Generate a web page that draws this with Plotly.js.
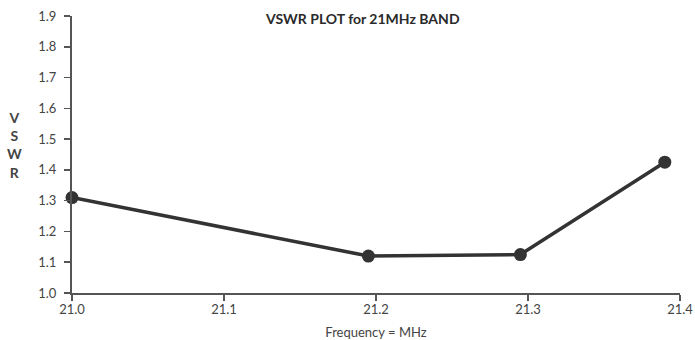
<!DOCTYPE html>
<html>
<head>
<meta charset="utf-8">
<script src="https://cdn.plot.ly/plotly-3.0.1.min.js"></script>
<style>html,body{margin:0;padding:0;background:#fff;}#chart{width:695px;height:340px;}</style>
</head>
<body>
<div id="chart"></div>
<script>
const frequencyMHz = [21.0, 21.195, 21.295, 21.39];
const vswr = [1.31, 1.12, 1.125, 1.425];
const xTicks = [21.0, 21.1, 21.2, 21.3, 21.4];
const xTickLabels = ["21.0", "21.1", "21.2", "21.3", "21.4"];
const yTicks = [1.0, 1.1, 1.2, 1.3, 1.4, 1.5, 1.6, 1.7, 1.8, 1.9];
const yTickLabels = ["1.0", "1.1", "1.2", "1.3", "1.4", "1.5", "1.6", "1.7", "1.8", "1.9"];

const fontFam = "Lato, 'Open Sans', sans-serif";
const trace = {
  x: frequencyMHz, y: vswr, type: 'scatter', mode: 'lines+markers',
  line: {color: '#333333', width: 3.5},
  marker: {color: '#333333', size: 13},
  cliponaxis: false, hoverinfo: 'none'
};
const layout = {
  width: 695, height: 340,
  margin: {l: 72, r: 15, t: 16, b: 47},
  paper_bgcolor: '#ffffff', plot_bgcolor: '#ffffff',
  showlegend: false,
  title: {text: '<b>VSWR PLOT for 21MHz BAND</b>', x: 0.522, xanchor: 'center', y: 0.945, yanchor: 'middle',
          font: {family: fontFam, size: 14, color: '#2a2a2a'}},
  xaxis: {
    range: [21.0, 21.4], tickvals: xTicks, ticktext: xTickLabels,
    showgrid: false, zeroline: false, showline: true, linecolor: '#555', linewidth: 2,
    ticks: 'outside', ticklen: 6, tickwidth: 1.5, tickcolor: '#555', ticklabelstandoff: -3,
    tickfont: {family: fontFam, size: 13, color: '#444'},
    title: {text: 'Frequency = MHz', standoff: 12, font: {family: fontFam, size: 13, color: '#444'}}
  },
  yaxis: {
    range: [1.0, 1.9], tickvals: yTicks, ticktext: yTickLabels,
    showgrid: false, zeroline: false, showline: true, linecolor: '#555', linewidth: 2,
    ticks: 'outside', ticklen: 6, tickwidth: 1.5, tickcolor: '#555', ticklabelstandoff: 5,
    tickfont: {family: fontFam, size: 13, color: '#444'}
  },
  annotations: [{
    text: '<b>V<br>S<br>W<br>R</b>', xref: 'paper', yref: 'paper',
    x: -0.094, y: 0.534, xanchor: 'center', yanchor: 'middle', showarrow: false,
    align: 'center', font: {family: fontFam, size: 14, color: '#444'}
  }]
};
Plotly.newPlot('chart', [trace], layout, {staticPlot: true, displayModeBar: false});
</script>
</body>
</html>
